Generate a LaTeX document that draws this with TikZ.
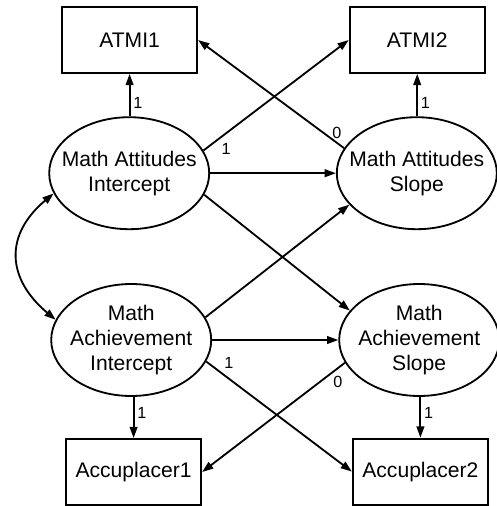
\documentclass[tikz,border=0pt]{standalone}
\usepackage{fontspec}
\setmainfont{Liberation Sans}
\usepackage{tikz}
\usetikzlibrary{shapes.geometric, arrows.meta, positioning}

\begin{document}
\begin{tikzpicture}[
    obsbox/.style = {rectangle, draw=black, line width=1.3pt, minimum width=3.38cm, minimum height=1.65cm, inner sep=0pt, font=\fontsize{15}{17.8}\selectfont},
    latent/.style = {ellipse, draw=black, line width=1.3pt, minimum width=4.0cm, minimum height=2.8cm, inner sep=-0.3cm, align=center, font=\fontsize{15}{17.8}\selectfont},
    arrow/.style = {draw=black, -{Triangle[length=8pt,width=5.5pt]}, line width=1.3pt},
    twoway/.style = {draw=black, {Triangle[length=8pt,width=5.5pt]}-{Triangle[length=8pt,width=5.5pt]}, line width=1.3pt},
    lbl/.style = {font=\fontsize{11.5}{13}\selectfont, inner sep=2pt}
]
\useasboundingbox (0,0) rectangle (12.4,-12.65);

% Observed measures, top row
\node (atmi1) [obsbox] at (3.24, -1.0) {ATMI1};
\node (atmi2) [obsbox] at (10.43, -1.0) {ATMI2};

% Latent growth factors
\node (mai) [latent] at (3.23, -4.33) {Math Attitudes\\Intercept};
\node (mas) [latent] at (10.42, -4.33) {Math Attitudes\\Slope};
\node (machi) [latent] at (3.28, -8.5) {Math\\Achievement\\Intercept};
\node (machs) [latent] at (10.48, -8.5) {Math\\Achievement\\Slope};

% Observed measures, bottom row
\node (acc1) [obsbox] at (3.34, -11.8) {Accuplacer1};
\node (acc2) [obsbox] at (10.51, -11.79) {Accuplacer2};

% Loadings
\draw [arrow] (mai.north -| atmi1.south) -- node[lbl, right, pos=0.32]{1} (atmi1.south);
\draw [arrow] (mas.north -| atmi2.south) -- node[lbl, right, pos=0.32]{1} (atmi2.south);
\draw [arrow] (mai.17) -- node[lbl, pos=0.1, below right]{1} (atmi2.west);
\draw [arrow] (mas.161) -- node[lbl, pos=0.05, above]{0} (atmi1.east);

\draw [arrow] (machi.south -| acc1.north) -- node[lbl, right, pos=0.4]{1} (acc1.north);
\draw [arrow] (machs.south -| acc2.north) -- node[lbl, right, pos=0.4]{1} (acc2.north);
\draw [arrow] (machi.-16) -- node[lbl, pos=0.1, above right]{1} (acc2.west);
\draw [arrow] (machs.197) -- node[lbl, pos=0.05, below=3pt]{0} (acc1.east);

% Structural paths
\draw [arrow] (mai.east) -- (mas.west);
\draw [arrow] (mai.-16) -- (machs.157);
\draw [arrow] (machi.17) -- (mas.205);
\draw [arrow] (machi.east) -- (machs.west);

% Covariance
\draw [twoway] (mai.195) to[out=220, in=140, looseness=1.3] (machi.165);

\end{tikzpicture}
\end{document}
